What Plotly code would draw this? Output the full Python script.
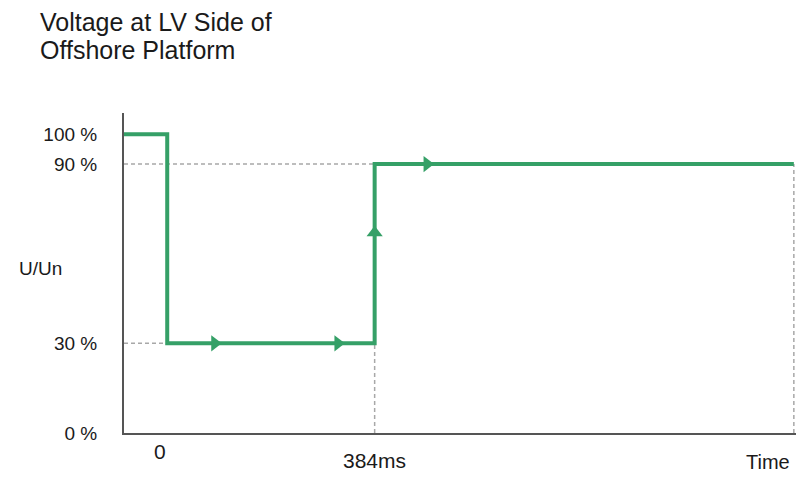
"""Voltage ride-through profile at the LV side of an offshore platform."""

import plotly.graph_objects as go

# profile of U/Un (percent) against time (ms)
TIME_MS = [-80, 0, 0, 384, 384, 1160]
VOLTAGE_PCT = [100, 100, 30, 30, 90, 90]

# direction arrows along the profile
ARROW_TIME_MS = [88, 316, 481]
ARROW_VOLT_PCT = [30, 30, 90]
RISE_ARROW_TIME_MS = [384]
RISE_ARROW_VOLT_PCT = [67]

Y_TICK_VALUES = [0, 30, 90, 100]
Y_TICK_TEXT = ["0 %", "30 %", "90 %", "100 %"]

TITLE_LINES = ["Voltage at LV Side of", "Offshore Platform"]

GREEN = "#35a067"
GRID = "#a8a8a8"
AXIS = "#555555"
FONT = "Liberation Sans, Arial, sans-serif"

# the page body adds an 8px margin, so the figure is sized to fit the window
PLOT_W, PLOT_H = 672, 320


def guide(x, y):
    return go.Scatter(
        x=x, y=y, mode="lines", hoverinfo="skip", showlegend=False,
        line=dict(color=GRID, width=1.5, dash="4px,3px"),
    )


fig = go.Figure()

# dashed guides to the levels and the end time
fig.add_trace(guide([TIME_MS[0], TIME_MS[-1]], [VOLTAGE_PCT[-1], VOLTAGE_PCT[-1]]))
fig.add_trace(guide([TIME_MS[0], TIME_MS[2]], [VOLTAGE_PCT[2], VOLTAGE_PCT[2]]))
fig.add_trace(guide([TIME_MS[3], TIME_MS[3]], [0, VOLTAGE_PCT[3]]))
fig.add_trace(guide([TIME_MS[-1], TIME_MS[-1]], [0, VOLTAGE_PCT[-1]]))

fig.add_trace(
    go.Scatter(
        x=TIME_MS, y=VOLTAGE_PCT, mode="lines", showlegend=False,
        line=dict(color=GREEN, width=4),
    )
)
fig.add_trace(
    go.Scatter(
        x=ARROW_TIME_MS, y=ARROW_VOLT_PCT, mode="markers", showlegend=False,
        marker=dict(symbol="triangle-right", size=14, color=GREEN),
    )
)
fig.add_trace(
    go.Scatter(
        x=RISE_ARROW_TIME_MS, y=RISE_ARROW_VOLT_PCT, mode="markers", showlegend=False,
        marker=dict(symbol="triangle-up", size=14, color=GREEN),
    )
)

title_notes = [
    dict(text=line, xref="paper", yref="paper", x=(38 - 124) / PLOT_W,
         y=1 + (113 - centre) / PLOT_H, xanchor="left", yanchor="middle",
         showarrow=False, font=dict(size=25))
    for line, centre in zip(TITLE_LINES, [22, 50])
]

fig.update_layout(
    width=788,
    height=466,
    margin=dict(l=116, r=0, t=105, b=41),
    paper_bgcolor="white",
    plot_bgcolor="white",
    font=dict(family=FONT, size=21, color="#1a1a1a"),
    xaxis=dict(
        range=[-80, 1164], showgrid=False, zeroline=False,
        showline=True, linecolor=AXIS, linewidth=2,
        showticklabels=False, ticks="",
    ),
    yaxis=dict(
        range=[0, 107.1], showgrid=False, zeroline=False,
        showline=True, linecolor=AXIS, linewidth=2,
        tickvals=Y_TICK_VALUES, ticktext=Y_TICK_TEXT, ticks="",
        ticklabelstandoff=21, tickfont=dict(size=19),
    ),
    annotations=title_notes + [
        dict(text="U/Un", xref="paper", yref="paper", x=(40 - 124) / PLOT_W, y=165 / PLOT_H,
             xanchor="center", yanchor="middle", showarrow=False, font=dict(size=19)),
        dict(text="0", x=TIME_MS[1], xref="x", yref="paper", y=-18 / PLOT_H, xshift=-7,
             xanchor="center", yanchor="middle", showarrow=False),
        dict(text="384ms", x=TIME_MS[3], xref="x", yref="paper", y=-27 / PLOT_H,
             xanchor="center", yanchor="middle", showarrow=False),
        dict(text="Time", xref="paper", yref="paper", x=1, y=-29 / PLOT_H, xshift=-4,
             xanchor="right", yanchor="middle", showarrow=False, font=dict(size=20)),
    ],
)

fig.write_html("out.html")
